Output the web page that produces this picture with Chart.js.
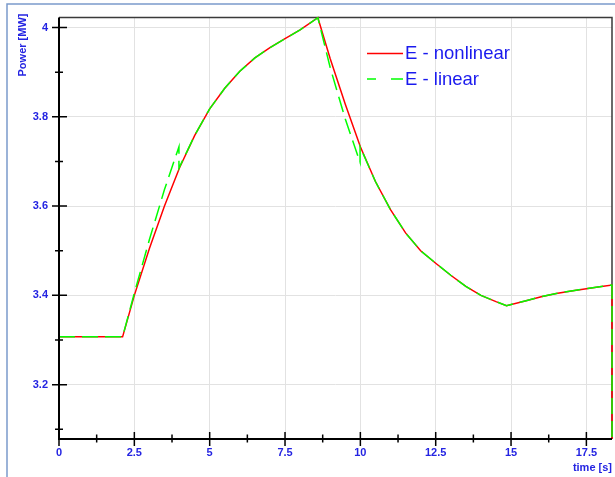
<!DOCTYPE html>
<html>
<head>
<meta charset="utf-8">
<script src="https://cdn.jsdelivr.net/npm/chart.js@4/dist/chart.umd.min.js"></script>
<style>
  html, body { margin: 0; padding: 0; background: #fff; }
  canvas { display: block; }
</style>
</head>
<body>
<canvas id="c" width="615" height="477"></canvas>
<script>
// Series labels
const seriesNames = ['E - nonlinear', 'E - linear'];

// Electrical power, nonlinear model: time [s] and power [MW]
const timeNonlinear = [0, 2.11, 2.5, 3.0, 3.5, 4.0, 4.5, 5.0, 5.5, 6.0, 6.5, 7.0, 7.5, 8.0, 8.59,
  9.0, 9.5, 10.0, 10.5, 11.0, 11.5, 12.0, 12.5, 13.0, 13.5, 14.0, 14.5, 14.85,
  15.5, 16.0, 16.5, 17.0, 17.5, 18.0, 18.35, 18.35];
const powerNonlinear = [3.307, 3.307, 3.400, 3.505, 3.600, 3.686, 3.758, 3.818, 3.864, 3.902, 3.932, 3.955, 3.975, 3.995, 4.022,
  3.930, 3.828, 3.733, 3.655, 3.592, 3.540, 3.500, 3.472, 3.445, 3.420, 3.400, 3.386, 3.377,
  3.388, 3.397, 3.404, 3.410, 3.415, 3.420, 3.423, 3.0];

// Electrical power, linearised model
const timeLinear = [0, 2.11, 2.5, 3.0, 3.5, 3.98, 3.98, 4.5, 5.0, 5.5, 6.0, 6.5, 7.0, 7.5, 8.0, 8.59,
  9.0, 9.5, 9.99, 9.99, 10.5, 11.0, 11.5, 12.0, 12.5, 13.0, 13.5, 14.0, 14.5, 14.85,
  15.5, 16.0, 16.5, 17.0, 17.5, 18.0, 18.35, 18.35];
const powerLinear = [3.307, 3.307, 3.405, 3.525, 3.637, 3.733, 3.685, 3.758, 3.818, 3.864, 3.902, 3.932, 3.955, 3.975, 3.995, 4.022,
  3.910, 3.795, 3.698, 3.733, 3.655, 3.592, 3.540, 3.500, 3.472, 3.445, 3.420, 3.400, 3.386, 3.377,
  3.388, 3.397, 3.404, 3.410, 3.415, 3.420, 3.423, 3.0];

// Axis ticks and labels
const xTicks = [0, 2.5, 5, 7.5, 10, 12.5, 15, 17.5];
const xLabels = ['0', '2.5', '5', '7.5', '10', '12.5', '15', '17.5'];
const xMinorTicks = [1.25, 3.75, 6.25, 8.75, 11.25, 13.75, 16.25];
const yTicks = [3.2, 3.4, 3.6, 3.8, 4];
const yLabels = ['3.2', '3.4', '3.6', '3.8', '4'];
const yMinorTicks = [3.1, 3.3, 3.5, 3.7, 3.9];
const xRange = [0, 18.35];
const yRange = [3.0782, 4.0223];
const xTitle = 'time [s]';
const yTitle = 'Power [MW]';

const toPoints = (xs, ys) => xs.map((x, i) => ({ x: x, y: ys[i] }));

const BLUE = '#2424e2';

const decorations = {
  id: 'decorations',
  beforeDraw(chart) {
    const ctx = chart.ctx;
    ctx.save();
    ctx.fillStyle = '#ffffff';
    ctx.fillRect(0, 0, chart.width, chart.height);
    // panel border
    ctx.strokeStyle = '#7b9acb';
    ctx.lineWidth = 1.5;
    ctx.beginPath();
    ctx.moveTo(7, chart.height);
    ctx.lineTo(7, 4);
    ctx.lineTo(chart.width, 4);
    ctx.stroke();
    ctx.restore();
  },
  beforeDatasetsDraw(chart) {
    const { ctx, chartArea: a } = chart;
    ctx.save();
    ctx.strokeStyle = '#3a3a3a';
    ctx.lineWidth = 1.5;
    ctx.beginPath();
    ctx.moveTo(a.left, a.top);
    ctx.lineTo(a.right, a.top);
    ctx.lineTo(a.right, a.bottom);
    ctx.stroke();
    ctx.restore();
  },
  afterDatasetsDraw(chart) {
    const { ctx, chartArea: a, scales } = chart;
    const xs = scales.x, ys = scales.y;
    ctx.save();
    ctx.strokeStyle = '#000';
    ctx.lineWidth = 2;
    ctx.beginPath();
    ctx.moveTo(a.left, a.top);
    ctx.lineTo(a.left, a.bottom);
    ctx.lineTo(a.right, a.bottom);
    ctx.stroke();
    ctx.lineWidth = 1.5;
    ctx.beginPath();
    xTicks.forEach(v => {
      const p = xs.getPixelForValue(v);
      ctx.moveTo(p, a.bottom - 7); ctx.lineTo(p, a.bottom + 7);
    });
    xMinorTicks.forEach(v => {
      const p = xs.getPixelForValue(v);
      ctx.moveTo(p, a.bottom - 4.5); ctx.lineTo(p, a.bottom + 3.5);
    });
    yTicks.forEach(v => {
      const p = ys.getPixelForValue(v);
      ctx.moveTo(a.left - 7, p); ctx.lineTo(a.left + 8, p);
    });
    yMinorTicks.forEach(v => {
      const p = ys.getPixelForValue(v);
      ctx.moveTo(a.left - 4, p); ctx.lineTo(a.left + 4, p);
    });
    ctx.stroke();
    ctx.restore();
  },
  afterDraw(chart) {
    const { ctx, chartArea: a } = chart;
    ctx.save();
    // axis titles
    ctx.fillStyle = BLUE;
    ctx.font = 'bold 11px "Liberation Sans", Arial, sans-serif';
    ctx.textAlign = 'right';
    ctx.textBaseline = 'alphabetic';
    ctx.fillText(xTitle, a.right, 471);
    ctx.save();
    ctx.translate(26, 45);
    ctx.rotate(-Math.PI / 2);
    ctx.textAlign = 'center';
    ctx.fillText(yTitle, 0, 0);
    ctx.restore();

    // legend
    const ds = chart.data.datasets;
    const rows = [53.5, 79];
    ctx.font = '18.5px "Liberation Sans", Arial, sans-serif';
    ctx.textAlign = 'left';
    ctx.textBaseline = 'middle';
    ds.forEach((d, i) => {
      const y = rows[i];
      ctx.strokeStyle = d.borderColor;
      ctx.lineWidth = 1.5;
      ctx.beginPath();
      if (d.borderDash && d.borderDash.length) {
        ctx.moveTo(367, y); ctx.lineTo(376, y);
        ctx.moveTo(391, y); ctx.lineTo(403, y);
      } else {
        ctx.moveTo(367, y); ctx.lineTo(403, y);
      }
      ctx.stroke();
      ctx.fillStyle = '#1a1aee';
      ctx.fillText(d.label, 405, y + 0.5);
    });
    ctx.restore();
  }
};

new Chart(document.getElementById('c'), {
  type: 'line',
  data: {
    datasets: [
      {
        label: seriesNames[0],
        data: toPoints(timeNonlinear, powerNonlinear),
        borderColor: '#ff0000',
        borderWidth: 1.5,
        pointRadius: 0,
        tension: 0,
        fill: false,
        clip: { left: 1, top: 2, right: 2, bottom: 0 },
        order: 2
      },
      {
        label: seriesNames[1],
        data: toPoints(timeLinear, powerLinear),
        borderColor: '#00ff00',
        borderWidth: 1.5,
        borderDash: [16, 7],
        pointRadius: 0,
        tension: 0,
        fill: false,
        clip: { left: 1, top: 2, right: 2, bottom: 0 },
        order: 1
      }
    ]
  },
  options: {
    responsive: false,
    animation: false,
    devicePixelRatio: 1,
    layout: { padding: { left: 0, right: 3, top: 15, bottom: 0 } },
    plugins: {
      legend: { display: false },
      tooltip: { enabled: false },
      title: { display: false }
    },
    scales: {
      x: {
        type: 'linear',
        min: xRange[0],
        max: xRange[1],
        afterBuildTicks: s => { s.ticks = xTicks.map(v => ({ value: v })); },
        afterFit: s => { s.height = 38; },
        grid: { color: '#e2e2e2', lineWidth: 1, drawTicks: false },
        border: { display: false },
        ticks: {
          padding: 7,
          color: BLUE,
          font: { family: '"Liberation Sans", Arial, sans-serif', size: 11, weight: 'bold' },
          callback: v => { const i = xTicks.indexOf(v); return i >= 0 ? xLabels[i] : ''; },
          maxRotation: 0,
          autoSkip: false
        }
      },
      y: {
        type: 'linear',
        min: yRange[0],
        max: yRange[1],
        afterBuildTicks: s => { s.ticks = yTicks.map(v => ({ value: v })); },
        afterFit: s => { s.width = 59; },
        grid: { color: '#e2e2e2', lineWidth: 1, drawTicks: false },
        border: { display: false },
        ticks: {
          padding: 11,
          color: BLUE,
          font: { family: '"Liberation Sans", Arial, sans-serif', size: 11, weight: 'bold' },
          callback: v => { const i = yTicks.findIndex(t => Math.abs(t - v) < 1e-9); return i >= 0 ? yLabels[i] : ''; },
          autoSkip: false
        }
      }
    }
  },
  plugins: [decorations]
});
</script>
</body>
</html>
